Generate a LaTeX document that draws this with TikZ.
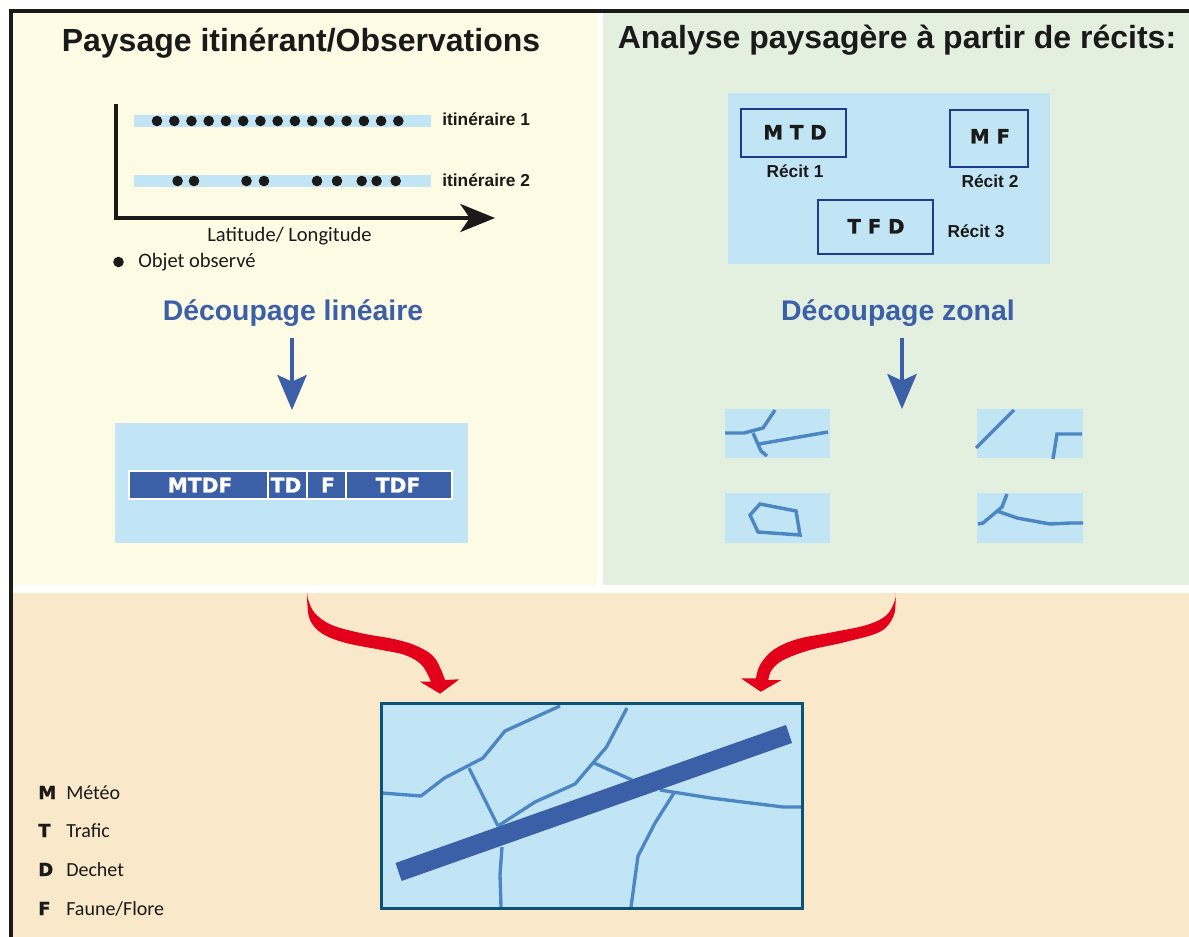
\documentclass[tikz,border=0pt]{standalone}
\usepackage{fontspec}
\usetikzlibrary{arrows.meta}
\setmainfont{Liberation Sans}
\newfontfamily\heavy[FakeBold=1.2]{DejaVu Sans Bold}
\newfontfamily\soft{Carlito}
\definecolor{yellowbg}{HTML}{FEFBE5}
\definecolor{greenbg}{HTML}{E3EFDF}
\definecolor{sandbg}{HTML}{F9E8CA}
\definecolor{sky}{HTML}{C2E5F5}
\definecolor{road}{HTML}{3B60A8}
\definecolor{track}{HTML}{4C87C4}
\definecolor{frameblack}{HTML}{1A1A1A}
\definecolor{mapedge}{HTML}{0C5275}
\definecolor{recit}{HTML}{1F3A8F}
\definecolor{redarrow}{HTML}{E2001A}
\tikzset{
  px/.style={x=0.75pt,y=-0.75pt},
  title/.style={font=\fontsize{24}{26}\selectfont\bfseries,text=frameblack,inner sep=0pt,anchor=base},
  cut/.style={font=\fontsize{21.3}{24}\selectfont\bfseries,text=road,inner sep=0pt,anchor=base},
  small/.style={font=\fontsize{13}{15}\selectfont\bfseries,text=frameblack,inner sep=0pt,anchor=base},
  softtext/.style={font=\soft\fontsize{15.4}{17}\selectfont,text=frameblack,inner sep=0pt,anchor=base},
  legendkey/.style={font=\heavy\fontsize{13.5}{15}\selectfont,text=frameblack,inner sep=0pt,anchor=base west},
  legendword/.style={font=\soft\fontsize{15}{17}\selectfont,text=frameblack,inner sep=0pt,anchor=base west},
  code/.style={font=\heavy\fontsize{14.8}{16}\selectfont,text=frameblack,inner sep=0pt,anchor=base},
  stripcode/.style={font=\heavy\fontsize{15.2}{16}\selectfont,text=white,inner sep=0pt,anchor=base},
  obs/.style={fill=frameblack,draw=none},
  recitbox/.style={draw=recit,line width=1.5pt,fill=none},
  stripcell/.style={fill=road,draw=white,line width=1pt},
  track line/.style={draw=track,line width=2.6pt,line join=miter},
  map line/.style={draw=track,line width=2.5pt,line join=round},
  axis/.style={draw=frameblack,line width=2.6pt},
  downarrow/.style={draw=road,line width=2.7pt,-{Stealth[length=26.25pt,width=22pt,inset=5pt,fill=road]}},
  axisarrow/.style={axis,-{Stealth[length=26pt,width=21pt,inset=7pt,fill=frameblack]}},
}
\begin{document}
\begin{tikzpicture}[px]
\useasboundingbox (0,0) rectangle (1189,937);
\fill[white] (0,0) rectangle (1189,937);
% panels
\fill[yellowbg] (11,11) rectangle (597,585.5);
\fill[greenbg] (603,11) rectangle (1189,585.5);
\fill[sandbg] (11,593) rectangle (1189,937);
\fill[frameblack] (9,9) rectangle (1189,13);
\fill[frameblack] (9,9) rectangle (13,937);
% titles
\node[title] (t1) at (301,52) {Paysage itinérant/Observations};
\node[title] (t2) at (897,49) {Analyse paysagère à partir de récits:};
% itineraries
\fill[sky] (134,115) rectangle (431,127);
\fill[sky] (134,175) rectangle (431,187);
\foreach \x in {0,...,14} \fill[obs] ({157+\x*17.24},121) circle (5.3);
\foreach \x in {177.6,194,246.5,264,317,337,361.7,376.6,395.7} \fill[obs] (\x,181) circle (5.3);
\node[small,anchor=base west] (i1) at (442,125.5) {itinéraire 1};
\node[small,anchor=base west] (i2) at (442,187) {itinéraire 2};
\coordinate (axtop) at (116,104);
\coordinate (axorigin) at (116,218);
\coordinate (axend) at (495,218);
\draw[axis,line cap=butt] (axtop) -- (axorigin);
\draw[axisarrow] ([xshift=-1.3pt]axorigin) -- (axend);
\node[softtext] (lat) at (289.5,241.5) {Latitude/ Longitude};
\fill[obs] (118.5,262) circle (5.3);
\node[softtext,anchor=base west] (obj) at (138,268) {Objet observé};
% left cut
\node[cut] (cl) at (293,320.5) {Découpage linéaire};
\coordinate (al1) at (292,338);
\coordinate (al2) at (292,410);
\draw[downarrow] (al1) -- (al2);
\fill[sky] (115,423) rectangle (468,543);
\fill[stripcell] (129,471) rectangle (268,499);
\fill[stripcell] (268,471) rectangle (307,499);
\fill[stripcell] (307,471) rectangle (346,499);
\fill[stripcell] (346,471) rectangle (452,499);
\node[stripcode] (mtdf) at (200,492.5) {MTDF};
\node[stripcode] (td) at (286,492.5) {TD};
\node[stripcode] (f) at (328,492.5) {F};
\node[stripcode] (tdf) at (398,492.5) {TDF};
% right top
\fill[sky] (728,93) rectangle (1050,264);
\draw[recitbox] (741,109) rectangle (846,157);
\draw[recitbox] (950,110) rectangle (1028,167);
\draw[recitbox] (818,200) rectangle (933,254);
\node[code] (c1) at (795,139.5) {M T D};
\node[code] (c2) at (990,143.5) {M F};
\node[code] (c3) at (876,233.5) {T F D};
\node[small] (r1) at (795,178) {Récit 1};
\node[small] (r2) at (990,188) {Récit 2};
\node[small] (r3) at (976,238) {Récit 3};
% right cut
\node[cut] (cz) at (898,320.5) {Découpage zonal};
\coordinate (ar1) at (902,338);
\coordinate (ar2) at (902,409);
\draw[downarrow] (ar1) -- (ar2);
\fill[sky] (725,409) rectangle (830,458);
\fill[sky] (977,409) rectangle (1083,458);
\fill[sky] (725,493) rectangle (830,543);
\fill[sky] (977,493) rectangle (1083,543);
\draw[track line] (725,433) -- (744,433) -- (763,428) -- (775,410);
\draw[track line] (753,433) -- (761,451) -- (767,456);
\draw[track line] (759,444) -- (828,432);
\draw[track line] (976,448) -- (1014,410);
\draw[track line] (1053,459) -- (1057,434) -- (1082,434);
\draw[track line] (760,504) -- (796,511) -- (800,535) -- (758,532) -- (750,515) -- cycle;
\draw[track line] (978,524) -- (983,523) -- (1002,507) -- (1007,494);
\draw[track line] (997,511) -- (1017,518) -- (1050,524) -- (1070,523) -- (1083,523);
% red arrows
\fill[redarrow] plot[smooth,tension=0.6] coordinates {(307.3,592.7) (308.3,600) (315,613.3) (331.7,625) (361.7,633.3) (395,639.3) (418.3,646.7) (435,658.3) (445,680)}
  -- (459.3,679.3) -- (440,693.7) -- (420,681.7)
  -- plot[smooth,tension=0.6] coordinates {(431,681.7) (421.7,665) (405,655) (381.7,650) (345,642.7) (321.7,633.3) (310,620) (307.3,603) (307.3,592.7)} -- cycle;
\fill[redarrow] plot[smooth,tension=0.6] coordinates {(895.7,592.7) (895,600) (886.7,615) (866.7,625) (830,632.7) (796.7,639.3) (773.3,650) (760,665) (756,678.3)}
  -- (741,678.3) -- (760.7,691.7) -- (781.7,680)
  -- plot[smooth,tension=0.6] coordinates {(768.3,680) (771.7,670) (783.3,660) (810,650) (846.7,641.7) (880,631.7) (893.3,616.7) (895.7,600) (895.7,592.7)} -- cycle;
% map
\fill[sky] (381.5,703.5) rectangle (802.5,908.5);
\draw[map line] (382,793) -- (421,796) -- (444.5,778) -- (483,758) -- (505,731) -- (560,706);
\draw[map line] (469,768) -- (498,826);
\draw[map line] (498,826) -- (535,802) -- (575,784) -- (606.5,747) -- (627,708);
\draw[map line] (594,763) -- (632,780);
\draw[map line] (660,790) -- (710.6,798) -- (783,807) -- (801,807);
\draw[map line] (674,793) -- (655,823) -- (638,856) -- (631,907);
\draw[map line] (502,847) -- (500,875) -- (501,907);
\fill[road] (395.5,863) -- (786,725) -- (792,743) -- (401.6,881) -- cycle;
\draw[mapedge,line width=2.6pt] (381.5,703.5) rectangle (802.5,908.5);
% legend
\node[legendkey] (km) at (38,799) {M};
\node[legendkey] (kt) at (38,837) {T};
\node[legendkey] (kd) at (38,876) {D};
\node[legendkey] (kf) at (38,915) {F};
\node[legendword] (wm) at (66,799) {Météo};
\node[legendword] (wt) at (66,837) {Trafic};
\node[legendword] (wd) at (66,876) {Dechet};
\node[legendword] (wf) at (66,915) {Faune/Flore};
\end{tikzpicture}
\end{document}
